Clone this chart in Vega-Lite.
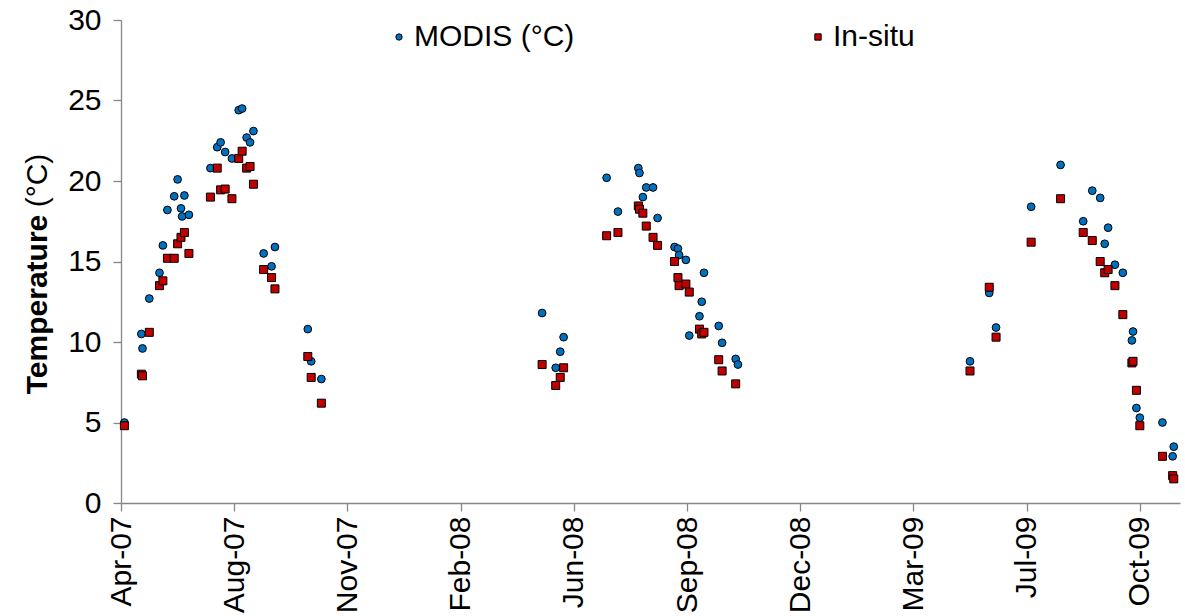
{
  "$schema": "https://vega.github.io/schema/vega-lite/v6.json",
  "width": 1059,
  "height": 483,
  "autosize": "none",
  "padding": {"left": 121, "top": 20, "right": 5, "bottom": 113},
  "background": "white",
  "config": {
    "view": {"stroke": null},
    "font": "Liberation Sans",
    "axis": {
      "grid": false,
      "domainColor": "#868686",
      "tickColor": "#868686",
      "domainWidth": 1.3,
      "tickWidth": 1.3,
      "tickSize": 8,
      "labelColor": "black",
      "labelFont": "Liberation Sans",
      "labelFontSize": 30,
      "titleColor": "black",
      "titleFont": "Liberation Sans",
      "titleFontSize": 30
    },
    "legend": {
      "labelFont": "Liberation Sans",
      "labelFontSize": 30,
      "labelColor": "black",
      "labelLimit": 400
    }
  },
  "data": {
    "values": [
      {"date": "2007-05-01", "series": "MODIS (°C)", "temp": 5.0},
      {"date": "2007-05-01", "series": "In-situ", "temp": 4.8},
      {"date": "2007-05-16", "series": "MODIS (°C)", "temp": 10.5},
      {"date": "2007-05-16", "series": "In-situ", "temp": 8.0},
      {"date": "2007-05-17", "series": "MODIS (°C)", "temp": 9.6},
      {"date": "2007-05-17", "series": "In-situ", "temp": 7.9},
      {"date": "2007-05-23", "series": "MODIS (°C)", "temp": 12.7},
      {"date": "2007-05-23", "series": "In-situ", "temp": 10.6},
      {"date": "2007-06-01", "series": "MODIS (°C)", "temp": 14.3},
      {"date": "2007-06-01", "series": "In-situ", "temp": 13.5},
      {"date": "2007-06-04", "series": "MODIS (°C)", "temp": 16.0},
      {"date": "2007-06-04", "series": "In-situ", "temp": 13.8},
      {"date": "2007-06-08", "series": "MODIS (°C)", "temp": 18.2},
      {"date": "2007-06-08", "series": "In-situ", "temp": 15.2},
      {"date": "2007-06-14", "series": "MODIS (°C)", "temp": 19.05},
      {"date": "2007-06-14", "series": "In-situ", "temp": 15.2},
      {"date": "2007-06-17", "series": "MODIS (°C)", "temp": 20.1},
      {"date": "2007-06-17", "series": "In-situ", "temp": 16.1},
      {"date": "2007-06-20", "series": "MODIS (°C)", "temp": 18.3},
      {"date": "2007-06-20", "series": "In-situ", "temp": 16.5},
      {"date": "2007-06-21", "series": "MODIS (°C)", "temp": 17.8},
      {"date": "2007-06-23", "series": "MODIS (°C)", "temp": 19.1},
      {"date": "2007-06-23", "series": "In-situ", "temp": 16.8},
      {"date": "2007-06-27", "series": "MODIS (°C)", "temp": 17.9},
      {"date": "2007-06-27", "series": "In-situ", "temp": 15.5},
      {"date": "2007-07-16", "series": "MODIS (°C)", "temp": 20.8},
      {"date": "2007-07-16", "series": "In-situ", "temp": 19.0},
      {"date": "2007-07-22", "series": "MODIS (°C)", "temp": 22.1},
      {"date": "2007-07-22", "series": "In-situ", "temp": 20.8},
      {"date": "2007-07-25", "series": "MODIS (°C)", "temp": 22.4},
      {"date": "2007-07-25", "series": "In-situ", "temp": 19.45},
      {"date": "2007-07-29", "series": "MODIS (°C)", "temp": 21.8},
      {"date": "2007-07-29", "series": "In-situ", "temp": 19.5},
      {"date": "2007-08-04", "series": "MODIS (°C)", "temp": 21.4},
      {"date": "2007-08-04", "series": "In-situ", "temp": 18.9},
      {"date": "2007-08-10", "series": "MODIS (°C)", "temp": 24.4},
      {"date": "2007-08-10", "series": "In-situ", "temp": 21.4},
      {"date": "2007-08-13", "series": "MODIS (°C)", "temp": 24.5},
      {"date": "2007-08-13", "series": "In-situ", "temp": 21.85},
      {"date": "2007-08-17", "series": "MODIS (°C)", "temp": 22.7},
      {"date": "2007-08-17", "series": "In-situ", "temp": 20.8},
      {"date": "2007-08-20", "series": "MODIS (°C)", "temp": 22.4},
      {"date": "2007-08-20", "series": "In-situ", "temp": 20.9},
      {"date": "2007-08-23", "series": "MODIS (°C)", "temp": 23.1},
      {"date": "2007-08-23", "series": "In-situ", "temp": 19.8},
      {"date": "2007-09-01", "series": "MODIS (°C)", "temp": 15.5},
      {"date": "2007-09-01", "series": "In-situ", "temp": 14.5},
      {"date": "2007-09-08", "series": "MODIS (°C)", "temp": 14.7},
      {"date": "2007-09-08", "series": "In-situ", "temp": 14.0},
      {"date": "2007-09-11", "series": "MODIS (°C)", "temp": 15.9},
      {"date": "2007-09-11", "series": "In-situ", "temp": 13.3},
      {"date": "2007-10-10", "series": "MODIS (°C)", "temp": 10.8},
      {"date": "2007-10-10", "series": "In-situ", "temp": 9.1},
      {"date": "2007-10-13", "series": "MODIS (°C)", "temp": 8.8},
      {"date": "2007-10-13", "series": "In-situ", "temp": 7.8},
      {"date": "2007-10-22", "series": "MODIS (°C)", "temp": 7.7},
      {"date": "2007-10-22", "series": "In-situ", "temp": 6.2},
      {"date": "2008-05-04", "series": "MODIS (°C)", "temp": 11.8},
      {"date": "2008-05-04", "series": "In-situ", "temp": 8.6},
      {"date": "2008-05-16", "series": "MODIS (°C)", "temp": 8.4},
      {"date": "2008-05-16", "series": "In-situ", "temp": 7.3},
      {"date": "2008-05-20", "series": "MODIS (°C)", "temp": 9.4},
      {"date": "2008-05-20", "series": "In-situ", "temp": 7.8},
      {"date": "2008-05-23", "series": "MODIS (°C)", "temp": 10.3},
      {"date": "2008-05-23", "series": "In-situ", "temp": 8.4},
      {"date": "2008-06-30", "series": "MODIS (°C)", "temp": 20.2},
      {"date": "2008-06-30", "series": "In-situ", "temp": 16.6},
      {"date": "2008-07-10", "series": "MODIS (°C)", "temp": 18.1},
      {"date": "2008-07-10", "series": "In-situ", "temp": 16.8},
      {"date": "2008-07-28", "series": "MODIS (°C)", "temp": 20.8},
      {"date": "2008-07-28", "series": "In-situ", "temp": 18.45},
      {"date": "2008-07-29", "series": "MODIS (°C)", "temp": 20.5},
      {"date": "2008-07-29", "series": "In-situ", "temp": 18.25},
      {"date": "2008-08-01", "series": "MODIS (°C)", "temp": 19.0},
      {"date": "2008-08-01", "series": "In-situ", "temp": 18.0},
      {"date": "2008-08-04", "series": "MODIS (°C)", "temp": 19.6},
      {"date": "2008-08-04", "series": "In-situ", "temp": 17.2},
      {"date": "2008-08-10", "series": "MODIS (°C)", "temp": 19.6},
      {"date": "2008-08-10", "series": "In-situ", "temp": 16.5},
      {"date": "2008-08-14", "series": "MODIS (°C)", "temp": 17.7},
      {"date": "2008-08-14", "series": "In-situ", "temp": 16.0},
      {"date": "2008-08-29", "series": "MODIS (°C)", "temp": 15.9},
      {"date": "2008-08-29", "series": "In-situ", "temp": 15.0},
      {"date": "2008-09-01", "series": "MODIS (°C)", "temp": 15.8},
      {"date": "2008-09-01", "series": "In-situ", "temp": 14.0},
      {"date": "2008-09-02", "series": "MODIS (°C)", "temp": 15.4},
      {"date": "2008-09-02", "series": "In-situ", "temp": 13.5},
      {"date": "2008-09-08", "series": "MODIS (°C)", "temp": 15.1},
      {"date": "2008-09-08", "series": "In-situ", "temp": 13.6},
      {"date": "2008-09-11", "series": "MODIS (°C)", "temp": 10.4},
      {"date": "2008-09-11", "series": "In-situ", "temp": 13.1},
      {"date": "2008-09-20", "series": "MODIS (°C)", "temp": 11.6},
      {"date": "2008-09-20", "series": "In-situ", "temp": 10.8},
      {"date": "2008-09-22", "series": "MODIS (°C)", "temp": 12.5},
      {"date": "2008-09-22", "series": "In-situ", "temp": 10.5},
      {"date": "2008-09-24", "series": "MODIS (°C)", "temp": 14.3},
      {"date": "2008-09-24", "series": "In-situ", "temp": 10.6},
      {"date": "2008-10-07", "series": "MODIS (°C)", "temp": 11.0},
      {"date": "2008-10-07", "series": "In-situ", "temp": 8.9},
      {"date": "2008-10-10", "series": "MODIS (°C)", "temp": 9.95},
      {"date": "2008-10-10", "series": "In-situ", "temp": 8.2},
      {"date": "2008-10-22", "series": "MODIS (°C)", "temp": 8.95},
      {"date": "2008-10-22", "series": "In-situ", "temp": 7.4},
      {"date": "2008-10-24", "series": "MODIS (°C)", "temp": 8.6},
      {"date": "2009-05-17", "series": "MODIS (°C)", "temp": 8.8},
      {"date": "2009-05-17", "series": "In-situ", "temp": 8.2},
      {"date": "2009-06-03", "series": "MODIS (°C)", "temp": 13.05},
      {"date": "2009-06-03", "series": "In-situ", "temp": 13.4},
      {"date": "2009-06-09", "series": "MODIS (°C)", "temp": 10.9},
      {"date": "2009-06-09", "series": "In-situ", "temp": 10.3},
      {"date": "2009-07-10", "series": "MODIS (°C)", "temp": 18.4},
      {"date": "2009-07-10", "series": "In-situ", "temp": 16.2},
      {"date": "2009-08-05", "series": "MODIS (°C)", "temp": 21.0},
      {"date": "2009-08-05", "series": "In-situ", "temp": 18.9},
      {"date": "2009-08-25", "series": "MODIS (°C)", "temp": 17.5},
      {"date": "2009-08-25", "series": "In-situ", "temp": 16.8},
      {"date": "2009-09-02", "series": "MODIS (°C)", "temp": 19.4},
      {"date": "2009-09-02", "series": "In-situ", "temp": 16.3},
      {"date": "2009-09-09", "series": "MODIS (°C)", "temp": 18.95},
      {"date": "2009-09-09", "series": "In-situ", "temp": 15.0},
      {"date": "2009-09-13", "series": "MODIS (°C)", "temp": 16.1},
      {"date": "2009-09-13", "series": "In-situ", "temp": 14.3},
      {"date": "2009-09-16", "series": "MODIS (°C)", "temp": 17.1},
      {"date": "2009-09-16", "series": "In-situ", "temp": 14.5},
      {"date": "2009-09-22", "series": "MODIS (°C)", "temp": 14.8},
      {"date": "2009-09-22", "series": "In-situ", "temp": 13.5},
      {"date": "2009-09-29", "series": "MODIS (°C)", "temp": 14.3},
      {"date": "2009-09-29", "series": "In-situ", "temp": 11.7},
      {"date": "2009-10-07", "series": "MODIS (°C)", "temp": 10.1},
      {"date": "2009-10-07", "series": "In-situ", "temp": 8.7},
      {"date": "2009-10-08", "series": "MODIS (°C)", "temp": 10.65},
      {"date": "2009-10-08", "series": "In-situ", "temp": 8.8},
      {"date": "2009-10-11", "series": "MODIS (°C)", "temp": 5.9},
      {"date": "2009-10-11", "series": "In-situ", "temp": 7.0},
      {"date": "2009-10-14", "series": "MODIS (°C)", "temp": 5.3},
      {"date": "2009-10-14", "series": "In-situ", "temp": 4.8},
      {"date": "2009-11-03", "series": "MODIS (°C)", "temp": 5.0},
      {"date": "2009-11-03", "series": "In-situ", "temp": 2.9},
      {"date": "2009-11-12", "series": "MODIS (°C)", "temp": 2.9},
      {"date": "2009-11-12", "series": "In-situ", "temp": 1.7},
      {"date": "2009-11-13", "series": "MODIS (°C)", "temp": 3.5},
      {"date": "2009-11-13", "series": "In-situ", "temp": 1.5}
    ]
  },
  "encoding": {
    "x": {
      "field": "date",
      "type": "temporal",
      "scale": {
        "type": "utc",
        "domain": [
          {"year": 2007, "month": 4, "date": 28, "utc": true},
          {"year": 2009, "month": 11, "date": 18, "hours": 12, "utc": true}
        ]
      },
      "axis": {
        "title": null,
        "format": "%b-%y",
        "labelAngle": -90,
        "labelPadding": 5,
        "values": [
          {"year": 2007, "month": 4, "date": 28, "utc": true},
          {"year": 2007, "month": 8, "date": 6, "utc": true},
          {"year": 2007, "month": 11, "date": 14, "utc": true},
          {"year": 2008, "month": 2, "date": 22, "utc": true},
          {"year": 2008, "month": 6, "date": 1, "utc": true},
          {"year": 2008, "month": 9, "date": 9, "utc": true},
          {"year": 2008, "month": 12, "date": 18, "utc": true},
          {"year": 2009, "month": 3, "date": 28, "utc": true},
          {"year": 2009, "month": 7, "date": 6, "utc": true},
          {"year": 2009, "month": 10, "date": 14, "utc": true}
        ]
      }
    },
    "color": {
      "field": "series",
      "type": "nominal",
      "scale": {"domain": ["MODIS (°C)", "In-situ"], "range": ["#0070C0", "#C00000"]},
      "legend": {
        "title": null,
        "orient": "none",
        "legendX": 263,
        "legendY": 2,
        "direction": "horizontal",
        "columnPadding": 228,
        "labelOffset": 0,
        "padding": 0,
        "symbolSize": 40,
        "symbolStrokeColor": "black",
        "symbolStrokeWidth": 1
      }
    },
    "shape": {
      "field": "series",
      "type": "nominal",
      "scale": {"domain": ["MODIS (°C)", "In-situ"], "range": ["circle", "square"]},
      "legend": {
        "title": null,
        "orient": "none",
        "legendX": 263,
        "legendY": 2,
        "direction": "horizontal",
        "columnPadding": 228,
        "labelOffset": 0,
        "padding": 0,
        "symbolSize": 40,
        "symbolStrokeColor": "black",
        "symbolStrokeWidth": 1
      }
    }
  },
  "layer": [
    {
      "transform": [{"filter": "datum.series === 'MODIS (°C)'"}],
      "mark": {"type": "point", "filled": true, "opacity": 1, "stroke": "black", "strokeWidth": 1, "size": 60},
      "encoding": {
        "y": {
          "field": "temp",
          "type": "quantitative",
          "scale": {"domain": [0, 30], "nice": false},
          "axis": {
            "values": [0, 5, 10, 15, 20, 25, 30],
            "labelPadding": 12,
            "title": "Temperature",
            "titleFontWeight": "bold",
            "titleAngle": -90,
            "titleBaseline": "middle",
            "titleX": -84,
            "titleY": 284
          }
        }
      }
    },
    {
      "transform": [{"filter": "datum.series === 'In-situ'"}],
      "mark": {"type": "point", "filled": true, "opacity": 1, "stroke": "black", "strokeWidth": 1, "size": 64},
      "encoding": {
        "y": {
          "field": "temp",
          "type": "quantitative",
          "axis": {
            "orient": "left",
            "labels": false,
            "ticks": false,
            "domain": false,
            "title": "(°C)",
            "titleFontWeight": "normal",
            "titleAngle": -90,
            "titleBaseline": "middle",
            "titleX": -84,
            "titleY": 160
          }
        }
      }
    }
  ],
  "resolve": {"axis": {"y": "independent"}}
}
